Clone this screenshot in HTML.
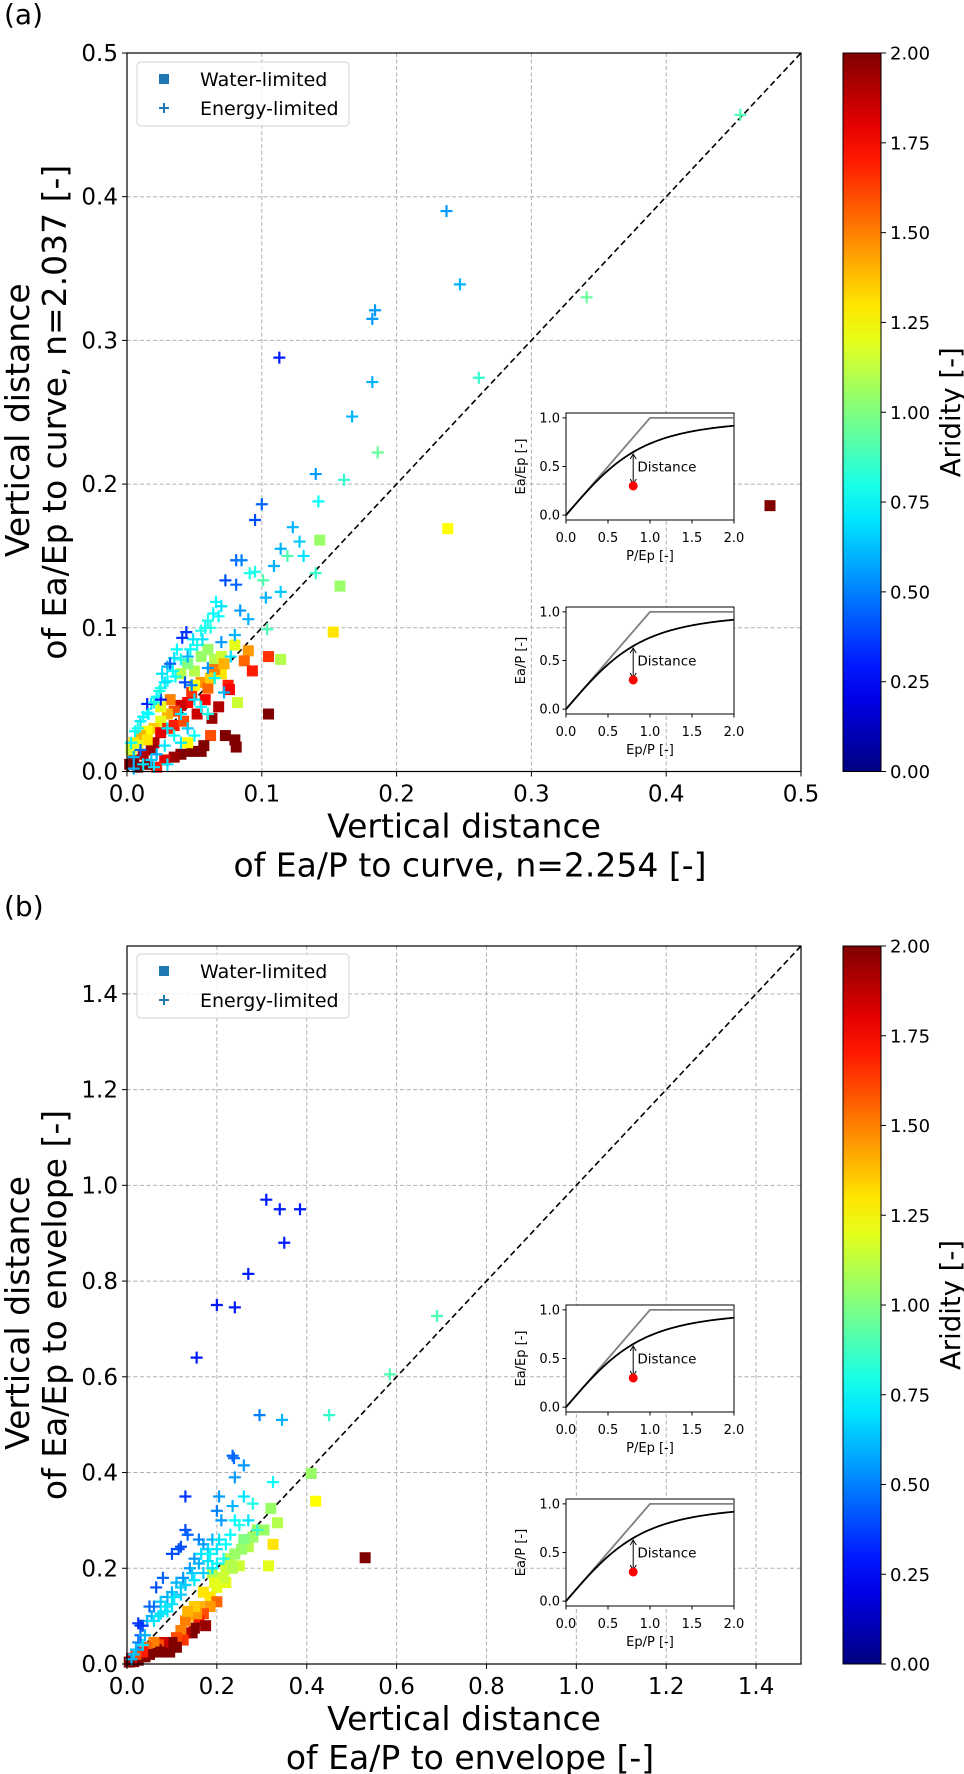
<!DOCTYPE html>
<html><head><meta charset="utf-8">
<style>
html,body{margin:0;padding:0;background:#fff;}
svg{display:block;font-family:"DejaVu Sans","Liberation Sans",sans-serif;}
</style></head>
<body>
<svg id="fig" width="964" height="1774" viewBox="0 0 964 1774" xmlns="http://www.w3.org/2000/svg"></svg>
<script>
// ---------- Panel (a) data ----------
const aPlusX=[0.455,0.237,0.247,0.184,0.182,0.113,0.182,0.341,0.261,0.167,0.186,0.161,0.140,0.100,0.095,0.123,0.142,0.114,0.109,0.128,0.119,0.131,0.140,0.081,0.085,0.091,0.095,0.073,0.081,0.101,0.103,0.114,0.104,0.084,0.090,0.080,0.066,0.070,0.064,0.060,0.058,0.055,0.049,0.044,0.041,0.037,0.035,0.030,0.026,0.030,0.025,0.022,0.018,0.015,0.010,0.006,0.003,0.032,0.043,0.048,0.025,0.015,0.045,0.060,0.070,0.077,0.065,0.072,0.050,0.055,0.060,0.040,0.030,0.035,0.028,0.022,0.018,0.012,0.010,0.005,0.020,0.030,0.040,0.045,0.050,0.005,0.052,0.047,0.040,0.034,0.028,0.020,0.012,0.008,0.062,0.068,0.056,0.036,0.024,0.016];
const aPlusY=[0.457,0.390,0.339,0.321,0.315,0.288,0.271,0.330,0.274,0.247,0.222,0.203,0.207,0.186,0.175,0.170,0.188,0.155,0.143,0.160,0.150,0.150,0.138,0.147,0.147,0.138,0.139,0.133,0.130,0.133,0.121,0.125,0.099,0.112,0.106,0.095,0.118,0.115,0.110,0.105,0.100,0.098,0.092,0.097,0.093,0.085,0.079,0.073,0.068,0.063,0.058,0.052,0.047,0.041,0.035,0.028,0.020,0.075,0.062,0.060,0.050,0.047,0.080,0.072,0.090,0.080,0.065,0.055,0.050,0.045,0.040,0.040,0.030,0.025,0.018,0.012,0.008,0.005,0.015,0.010,0.003,0.005,0.020,0.030,0.025,0.002,0.088,0.085,0.078,0.070,0.062,0.048,0.038,0.030,0.100,0.108,0.092,0.066,0.056,0.040];
const aPlusC=[0.9,0.55,0.6,0.55,0.55,0.3,0.6,0.95,0.85,0.6,0.95,0.85,0.55,0.45,0.4,0.6,0.75,0.6,0.6,0.65,0.9,0.7,0.85,0.45,0.5,0.8,0.8,0.4,0.45,0.9,0.6,0.65,0.9,0.55,0.6,0.6,0.75,0.7,0.75,0.8,0.75,0.8,0.7,0.35,0.35,0.75,0.7,0.6,0.7,0.75,0.8,0.75,0.7,0.75,0.7,0.75,0.75,0.45,0.4,0.5,0.3,0.3,0.6,0.55,0.55,0.7,0.75,0.6,0.7,0.75,0.8,0.7,0.7,0.75,0.7,0.6,0.65,0.7,0.45,0.6,0.7,0.7,0.7,0.65,0.75,0.6,0.8,0.75,0.8,0.75,0.7,0.8,0.75,0.8,0.8,0.75,0.7,0.75,0.8,0.75];
const aSqX=[0.477,0.238,0.143,0.158,0.153,0.105,0.114,0.090,0.087,0.093,0.080,0.082,0.075,0.076,0.105,0.080,0.081,0.073,0.063,0.062,0.057,0.055,0.048,0.045,0.040,0.035,0.028,0.022,0.015,0.005,0.008,0.002,0.065,0.060,0.050,0.045,0.040,0.055,0.060,0.048,0.045,0.040,0.035,0.030,0.025,0.020,0.015,0.010,0.005,0.003,0.030,0.025,0.020,0.018,0.012,0.035,0.042,0.032,0.025,0.068,0.052,0.050,0.058,0.070,0.065,0.055,0.070,0.062,0.072,0.015,0.008];
const aSqY=[0.185,0.169,0.161,0.129,0.097,0.080,0.078,0.084,0.077,0.070,0.088,0.048,0.060,0.057,0.040,0.022,0.017,0.025,0.037,0.025,0.018,0.014,0.014,0.020,0.012,0.010,0.008,0.003,0.005,0.008,0.003,0.005,0.078,0.085,0.070,0.075,0.068,0.062,0.058,0.055,0.048,0.046,0.042,0.040,0.035,0.030,0.028,0.025,0.020,0.015,0.030,0.027,0.020,0.015,0.012,0.032,0.035,0.050,0.045,0.045,0.040,0.060,0.050,0.068,0.071,0.080,0.080,0.065,0.075,0.022,0.018];
const aSqC=[2.0,1.25,1.05,1.05,1.3,1.65,1.1,1.45,1.55,1.7,1.2,1.15,1.7,1.75,2.0,2.0,2.0,2.0,1.95,1.6,2.0,2.0,2.0,1.25,2.0,1.95,1.8,1.7,2.0,2.0,2.0,2.0,1.1,1.05,1.1,1.0,1.1,1.45,1.55,1.65,1.75,1.85,1.6,1.4,1.2,1.35,1.25,1.4,1.3,1.15,1.65,1.8,1.9,1.95,1.9,1.7,1.6,1.5,1.2,1.9,1.85,1.25,1.75,1.3,1.5,1.05,1.15,1.35,1.4,1.3,1.2];
const aTicks=[0.0,0.1,0.2,0.3,0.4,0.5];
const aTickLabels=["0.0","0.1","0.2","0.3","0.4","0.5"];

// ---------- Panel (b) data ----------
const bPlusX=[0.31,0.34,0.385,0.35,0.27,0.20,0.24,0.155,0.69,0.585,0.295,0.345,0.45,0.235,0.238,0.26,0.24,0.325,0.13,0.205,0.26,0.28,0.235,0.20,0.21,0.24,0.25,0.27,0.29,0.13,0.135,0.12,0.115,0.10,0.16,0.17,0.19,0.18,0.2,0.22,0.215,0.15,0.14,0.16,0.17,0.19,0.125,0.11,0.13,0.15,0.08,0.065,0.09,0.10,0.075,0.085,0.06,0.05,0.055,0.045,0.06,0.035,0.025,0.03,0.03,0.04,0.025,0.035,0.02,0.015,0.01,0.12,0.1,0.07,0.18,0.2,0.23,0.165,0.145,0.12,0.105,0.09,0.075,0.185,0.205];
const bPlusY=[0.97,0.95,0.95,0.88,0.815,0.75,0.745,0.64,0.727,0.605,0.52,0.51,0.52,0.435,0.43,0.415,0.39,0.38,0.35,0.35,0.35,0.335,0.33,0.32,0.30,0.30,0.29,0.30,0.28,0.28,0.27,0.245,0.24,0.23,0.26,0.25,0.26,0.24,0.24,0.25,0.22,0.22,0.20,0.21,0.19,0.20,0.18,0.17,0.165,0.175,0.18,0.16,0.14,0.15,0.13,0.12,0.12,0.12,0.10,0.09,0.09,0.08,0.085,0.08,0.06,0.06,0.045,0.04,0.03,0.02,0.01,0.145,0.125,0.10,0.215,0.21,0.27,0.23,0.19,0.16,0.14,0.11,0.105,0.23,0.26];
const bPlusC=[0.3,0.3,0.3,0.3,0.3,0.3,0.3,0.3,0.9,0.9,0.5,0.6,0.85,0.45,0.45,0.55,0.55,0.75,0.35,0.55,0.7,0.8,0.6,0.5,0.55,0.75,0.8,0.7,0.85,0.4,0.45,0.4,0.4,0.4,0.5,0.55,0.6,0.65,0.7,0.75,0.8,0.55,0.55,0.6,0.65,0.7,0.55,0.6,0.65,0.7,0.45,0.4,0.6,0.6,0.65,0.7,0.5,0.45,0.6,0.6,0.7,0.4,0.35,0.35,0.45,0.6,0.5,0.7,0.6,0.65,0.6,0.65,0.7,0.7,0.7,0.75,0.75,0.7,0.65,0.65,0.7,0.7,0.7,0.75,0.7];
const bSqX=[0.53,0.42,0.41,0.335,0.32,0.325,0.305,0.27,0.28,0.26,0.315,0.25,0.23,0.22,0.21,0.19,0.2,0.185,0.17,0.2,0.185,0.16,0.14,0.17,0.16,0.175,0.15,0.145,0.13,0.12,0.125,0.11,0.10,0.09,0.095,0.08,0.07,0.065,0.055,0.06,0.045,0.05,0.04,0.03,0.025,0.015,0.01,0.005,0.035,0.02,0.24,0.22,0.13,0.155,0.11,0.075,0.29,0.255,0.235,0.215,0.195,0.15,0.135];
const bSqY=[0.222,0.34,0.398,0.295,0.325,0.25,0.28,0.245,0.265,0.26,0.205,0.205,0.22,0.20,0.18,0.19,0.16,0.14,0.15,0.13,0.12,0.12,0.10,0.105,0.09,0.08,0.075,0.065,0.065,0.07,0.05,0.055,0.045,0.04,0.025,0.045,0.04,0.03,0.025,0.045,0.035,0.02,0.015,0.015,0.008,0.005,0.012,0.004,0.025,0.02,0.23,0.17,0.09,0.105,0.035,0.025,0.28,0.24,0.2,0.18,0.17,0.12,0.11];
const bSqC=[2.0,1.25,1.05,1.1,1.05,1.3,1.05,1.1,1.05,1.0,1.2,1.15,1.1,1.15,1.15,1.1,1.2,1.3,1.3,1.55,1.45,1.4,1.35,1.6,1.7,1.95,2.0,2.0,1.9,1.5,1.65,1.6,2.0,2.0,2.0,1.85,1.6,2.0,2.0,1.5,1.55,2.0,2.0,2.0,2.0,2.0,1.8,2.0,1.7,1.6,1.05,1.2,1.5,1.45,2.0,2.0,1.05,1.05,1.1,1.15,1.2,1.35,1.4];
const bTicks=[0.0,0.2,0.4,0.6,0.8,1.0,1.2,1.4];
const bTickLabels=["0.0","0.2","0.4","0.6","0.8","1.0","1.2","1.4"];
const cbTicks=[0,0.25,0.5,0.75,1.0,1.25,1.5,1.75,2.0];
const cbTickLabels=["0.00","0.25","0.50","0.75","1.00","1.25","1.50","1.75","2.00"];

const NS="http://www.w3.org/2000/svg";
const svg=document.getElementById('fig');
function mk(tag,attrs,parent){const e=document.createElementNS(NS,tag);for(const k in attrs)e.setAttribute(k,attrs[k]);(parent||svg).appendChild(e);return e;}
function clip(v){return Math.max(0,Math.min(1,v));}
function jet(t){t=clip(t);const r=clip(1.5-Math.abs(4*t-3)),g=clip(1.5-Math.abs(4*t-2)),b=clip(1.5-Math.abs(4*t-1));return `rgb(${Math.round(r*255)},${Math.round(g*255)},${Math.round(b*255)})`;}

function inset(g,x0,y0,ylab,xlab){
  const w=168,h=107;
  const sx=v=>x0+v/2*w, sy=v=>y0+h-(v+0.05)/1.1*h;
  const ig=mk('g',{},g);
  
  
  mk('rect',{x:x0,y:y0,width:w,height:h,fill:'#fff',stroke:'#000','stroke-width':1},ig);
  mk('polyline',{points:`${sx(0)},${sy(0)} ${sx(1)},${sy(1)} ${sx(2)},${sy(1)}`,fill:'none',stroke:'#808080','stroke-width':1.8},ig);
  let pts=[];for(let i=0;i<=100;i++){const x=i/50;const y=x/Math.pow(1+Math.pow(x,2.254),1/2.254);pts.push(sx(x)+','+sy(y));}
  mk('polyline',{points:pts.join(' '),fill:'none',stroke:'#000','stroke-width':1.8},ig);
  const yc=0.8/Math.pow(1+Math.pow(0.8,2.254),1/2.254);
  mk('line',{x1:sx(0.8),y1:sy(0.3)-3,x2:sx(0.8),y2:sy(yc)+3,stroke:'#000','stroke-width':1},ig);
  mk('path',{d:`M${sx(0.8)-3},${sy(0.3)-7} L${sx(0.8)},${sy(0.3)-2} L${sx(0.8)+3},${sy(0.3)-7}`,fill:'none',stroke:'#000','stroke-width':1},ig);
  mk('path',{d:`M${sx(0.8)-3},${sy(yc)+7} L${sx(0.8)},${sy(yc)+2} L${sx(0.8)+3},${sy(yc)+7}`,fill:'none',stroke:'#000','stroke-width':1},ig);
  mk('circle',{cx:sx(0.8),cy:sy(0.3),r:4.5,fill:'#ff0000'},ig);
  const dt=mk('text',{x:sx(0.85),y:sy(0.5)+5,'font-size':13.5},ig);dt.textContent='Distance';
  [0,0.5,1].forEach((v,i)=>{mk('line',{x1:x0,x2:x0-3.5,y1:sy(v),y2:sy(v),stroke:'#000'},ig);
    const t=mk('text',{x:x0-6,y:sy(v)+4.5,'font-size':13,'text-anchor':'end'},ig);t.textContent=["0.0","0.5","1.0"][i];});
  [0,0.5,1,1.5,2].forEach((v,i)=>{mk('line',{x1:sx(v),x2:sx(v),y1:y0+h,y2:y0+h+3.5,stroke:'#000'},ig);
    const t=mk('text',{x:sx(v),y:y0+h+22,'font-size':13,'text-anchor':'middle'},ig);t.textContent=["0.0","0.5","1.0","1.5","2.0"][i];});
  const xl=mk('text',{x:x0+w/2,y:y0+h+40,'font-size':13,'text-anchor':'middle'},ig);xl.textContent=xlab;
  const yl=mk('text',{x:0,y:0,'font-size':13,'text-anchor':'middle',transform:`translate(${x0-41},${y0+h/2}) rotate(-90)`},ig);yl.textContent=ylab;
}

function panel(cfg){
  const L=127,R=801,T=cfg.top,B=cfg.bottom,M=cfg.max;
  const X=v=>L+v/M*(R-L), Y=v=>B-v/M*(B-T);
  const g=mk('g',{});
  
  
  const pl=mk('text',{x:4,y:cfg.labelY+10,'font-size':28},g);pl.textContent=cfg.label;
  
  
  cfg.ticks.forEach(v=>{
    if(v>0){mk('line',{x1:X(v),x2:X(v),y1:T,y2:B,stroke:'#b0b0b0','stroke-width':1,'stroke-dasharray':'4,2.5'},g);
    mk('line',{x1:L,x2:R,y1:Y(v),y2:Y(v),stroke:'#b0b0b0','stroke-width':1,'stroke-dasharray':'4,2.5'},g);}
  });
  const d=mk('line',{x1:X(0),y1:Y(0),x2:X(M),y2:Y(M),stroke:'#000','stroke-width':1.6,'stroke-dasharray':'6,3.5'},g);
  
  
  for(let i=0;i<cfg.sqX.length;i++){
    const s=mk('rect',{x:X(cfg.sqX[i])-5.5,y:Y(cfg.sqY[i])-5.5,width:11,height:11,fill:jet(cfg.sqC[i]/2)},g);
    
    
  }
  for(let i=0;i<cfg.plX.length;i++){
    const x=X(cfg.plX[i]),y=Y(cfg.plY[i]);
    const p=mk('path',{d:`M${x-6},${y}H${x+6}M${x},${y-6}V${y+6}`,stroke:jet(cfg.plC[i]/2),'stroke-width':2.2,fill:'none'},g);
    
    
  }
  mk('rect',{x:L,y:T,width:R-L,height:B-T,fill:'none',stroke:'#000','stroke-width':1.2},g);
  cfg.ticks.forEach((v,i)=>{
    mk('line',{x1:X(v),x2:X(v),y1:B,y2:B+5,stroke:'#000'},g);
    mk('line',{x1:L,x2:L-5,y1:Y(v),y2:Y(v),stroke:'#000'},g);
    const tx=mk('text',{x:X(v),y:B+30,'font-size':23,'text-anchor':'middle'},g);tx.textContent=cfg.tickLabels[i];
    
    
    const ty=mk('text',{x:L-9,y:Y(v)+8,'font-size':23,'text-anchor':'end'},g);ty.textContent=cfg.tickLabels[i];
    
    
  });
  const xt1=mk('text',{x:464,y:B+66,'font-size':33,'text-anchor':'middle'},g);xt1.textContent='Vertical distance';
  
  
  const xt2=mk('text',{x:cfg.x2c,y:B+105,'font-size':33,'text-anchor':'middle'},g);xt2.textContent=cfg.xlab2;
  
  
  const cy=(T+B)/2;
  const yt1=mk('text',{x:0,y:0,'font-size':33,'text-anchor':'middle',transform:`translate(29,${cy+8}) rotate(-90)`},g);yt1.textContent='Vertical distance';
  
  
  const yt2=mk('text',{x:0,y:0,'font-size':33,'text-anchor':'middle',transform:`translate(66,${cy}) rotate(-90)`},g);yt2.textContent=cfg.ylab2;
  
  
  const lg=mk('g',{},g);
  
  
  mk('rect',{x:137,y:cfg.legTop,width:212,height:64,rx:4,fill:'#fff','fill-opacity':0.8,stroke:'#d0d0d0'},lg);
  const ly1=cfg.legTop+17,ly2=cfg.legTop+46;
  mk('rect',{x:159,y:ly1-5,width:10,height:10,fill:'#1f77b4'},lg);
  mk('path',{d:`M${159},${ly2}H${169}M${164},${ly2-5}V${ly2+5}`,stroke:'#1f77b4','stroke-width':2},lg);
  const l1=mk('text',{x:200,y:ly1+7,'font-size':19},lg);l1.textContent='Water-limited';
  
  
  const l2=mk('text',{x:200,y:ly2+7,'font-size':19},lg);l2.textContent='Energy-limited';
  
  
  inset(g,566,cfg.in1,'Ea/Ep [-]','P/Ep [-]');
  inset(g,566,cfg.in2,'Ea/P [-]','Ep/P [-]');
  const cb=mk('g',{},g);
  
  
  const gid='grad'+cfg.label.replace(/\W/g,'');
  const defs=mk('defs',{},cb);
  const lgd=mk('linearGradient',{id:gid,x1:0,y1:1,x2:0,y2:0},defs);
  for(let i=0;i<=20;i++)mk('stop',{offset:i/20,'stop-color':jet(i/20)},lgd);
  mk('rect',{x:843,y:T,width:38,height:B-T,fill:`url(#${gid})`,stroke:'#000','stroke-width':1},cb);
  cbTicks.forEach((v,i)=>{const yy=B-v/2*(B-T);
    mk('line',{x1:881,x2:886,y1:yy,y2:yy,stroke:'#000'},cb);
    const t=mk('text',{x:890,y:yy+6.5,'font-size':18},cb);t.textContent=cbTickLabels[i];});
  const cl=mk('text',{x:0,y:0,'font-size':27.5,'text-anchor':'middle',transform:`translate(960,${cy}) rotate(-90)`},cb);cl.textContent='Aridity [-]';
  
  
}

panel({name:'panel-a',label:'(a)',labelY:14,top:53,bottom:771.5,max:0.5,ticks:aTicks,tickLabels:aTickLabels,
  plX:aPlusX,plY:aPlusY,plC:aPlusC,sqX:aSqX,sqY:aSqY,sqC:aSqC,
  xlab2:'of Ea/P to curve, n=2.254  [-]',x2c:470,ylab2:'of Ea/Ep to curve, n=2.037 [-]',legTop:62,in1:413,in2:607});
panel({name:'panel-b',label:'(b)',labelY:906,top:946,bottom:1664,max:1.5,ticks:bTicks,tickLabels:bTickLabels,
  plX:bPlusX,plY:bPlusY,plC:bPlusC,sqX:bSqX,sqY:bSqY,sqC:bSqC,
  xlab2:'of Ea/P to envelope [-]',x2c:470,ylab2:'of Ea/Ep to envelope [-]',legTop:954,in1:1305,in2:1499});
</script>
</body></html>
